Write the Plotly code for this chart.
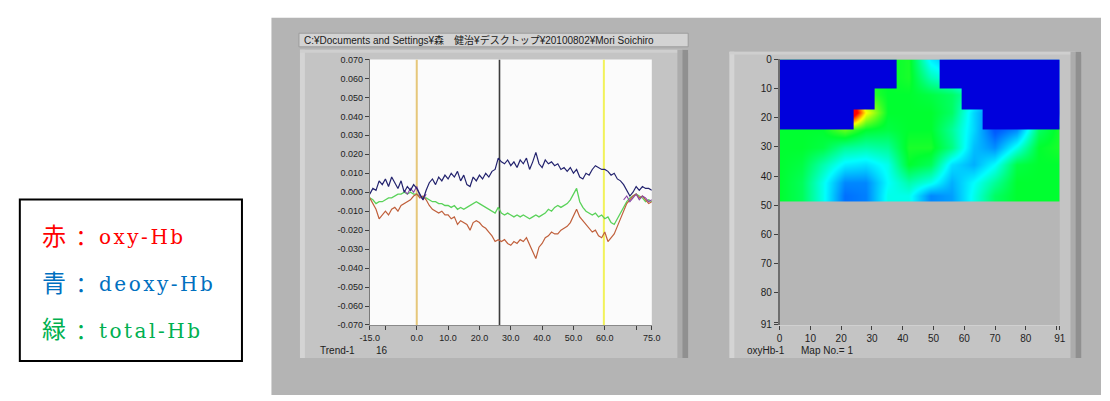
import plotly.graph_objects as go

# ---------------- data ----------------
time_s = list(range(-15, 76))  # seconds, 1 s steps

# values in units of 0.001
deoxy_hb = [-1, 2, 1, 6, 4, 7, 3, 8, 5, 2, 6, 0, 3, 1, 4,
            2, -1, -4, 1, 5, 7, 4, 8, 6, 9, 7, 10, 8, 11, 6,
            9, 4, 3, 8, 6, 9, 7, 10, 8, 11, 12, 18, 16, 15, 17,
            14, 16, 13, 17, 15, 18, 12, 16, 21, 15, 13, 17, 15, 16, 14,
            15, 12, 13, 11, 13, 10, 12, 8, 7, 10, 9, 12, 14, 13, 12,
            12, 11, 9, 10, 7, 6, 4, 1, -2, 0, 3, 1, 3, 2, 2, 1]

oxy_hb = [-3, -6, -9, -14, -12, -10, -12, -9, -8, -10, -7, -6, -5, -4, -2,
          -1, -3, -2, -4, -7, -9, -10, -11, -10, -12, -12, -14, -13, -17, -15,
          -16, -17, -20, -16, -15, -16, -18, -19, -21, -23, -26, -25, -26, -25, -27,
          -28, -26, -27, -25, -26, -24, -28, -31, -35, -29, -27, -24, -23, -21, -22,
          -22, -20, -19, -18, -16, -12, -9, -13, -15, -17, -19, -21, -20, -23, -24,
          -21, -26, -24, -22, -18, -14, -10, -6, -4, -2, -1, -3, -2, -4, -6, -5]

total_hb = [-3, -4, -6, -5, -5, -4, -3, -3, -2, -1, -1, 0, -1, 0, -1,
            -1, -2, -3, -3, -4, -5, -5, -6, -6, -7, -7, -8, -7, -9, -8,
            -9, -8, -7, -6, -5, -6, -7, -8, -9, -10, -11, -8, -11, -12, -11,
            -12, -13, -12, -13, -12, -13, -14, -13, -12, -13, -12, -11, -9, -10, -8,
            -7, -8, -7, -6, -4, -1, 2, -5, -8, -10, -11, -12, -11, -13, -12,
            -14, -13, -16, -17, -14, -11, -8, -5, -3, -2, -1, -2, -3, -5, -4, -5]

extra_time = [-4, -3, -2, -1, 0, 1, 2, 3, None, 66, 67, 68, 69, 70, 71, 72, 73, 74, 75]
extra_ch = [1, -1, 2, 0, 3, -2, -4, -1, None, -4, -2, -5, -3, -1, -4, -2, -3, -5, -4]

cursor_times = [0.0, 26.4, 59.7]

y_tick_vals = [-0.07, -0.06, -0.05, -0.04, -0.03, -0.02, -0.01, 0.0,
               0.01, 0.02, 0.03, 0.04, 0.05, 0.06, 0.07]
y_tick_text = ["-0.070", "-0.060", "-0.050", "-0.040", "-0.030", "-0.020", "-0.010", "0.000",
               "0.010", "0.020", "0.030", "0.040", "0.050", "0.060", "0.070"]
x_tick_vals = [-15, -10, 0, 10, 20, 30, 40, 50, 60, 70, 75]
x_tick_text = ["-15.0", "", "0.0", "10.0", "20.0", "30.0", "40.0", "50.0", "60.0", "", "75.0"]

# topography map (oxyHb-1), coarse grid, smoothed by the library
map_x = [0, 7, 14, 21, 28, 35, 42, 49, 56, 63, 70, 77, 84, 91]
map_y = [0, 6, 12, 18, 24, 30, 36, 42, 46.5]
map_z = [
    [.60, .60, .60, .60, .60, .60, .62, .38, .30, .30, .30, .30, .30, .30],
    [.60, .60, .60, .60, .60, .60, .62, .47, .40, .30, .30, .30, .30, .30],
    [.60, .60, .60, 1.2, .65, .60, .60, .58, .55, .45, .30, .30, .30, .30],
    [.60, .60, .60, 1.3, .80, .60, .60, .60, .55, .35, .20, .20, .20, .20],
    [.60, .60, .60, .68, .60, .58, .60, .60, .50, .35, .18, .25, .55, .62],
    [.60, .60, .58, .50, .48, .50, .62, .62, .52, .32, .26, .42, .60, .62],
    [.60, .58, .48, .38, .36, .42, .60, .56, .36, .30, .40, .58, .60, .60],
    [.60, .56, .42, .25, .25, .40, .48, .42, .30, .40, .50, .60, .60, .60],
    [.60, .56, .42, .22, .24, .42, .42, .25, .28, .42, .55, .60, .60, .60],
]
mask_x_edges = [0, 24, 31, 38, 52, 59, 66, 91]
mask_y_edges = [0, 10, 17, 24]
mask_z = [
    [1, 1, 1, None, 1, 1, 1],
    [1, 1, None, None, None, 1, 1],
    [1, None, None, None, None, None, 1],
]
map_tick_vals = [0, 10, 20, 30, 40, 50, 60, 70, 80, 90, 91]
map_tick_text = ["0", "10", "20", "30", "40", "50", "60", "70", "80", "", "91"]

legend_kanji = ["赤", "青", "緑"]
legend_names = ["oxy-Hb", "deoxy-Hb", "total-Hb"]
legend_colors = ["#ff0000", "#0070c0", "#00b050"]

path_text = "C:¥Documents and Settings¥森　健治¥デスクトップ¥20100802¥Mori Soichiro"

# ---------------- layout helpers ----------------
W, H = 1110, 401


def fx(p):
    return p / W


def fy(p):
    return 1 - p / H


def rect(x0, y0, x1, y1, fill, line_color=None, lw=0, layer="below"):
    return dict(type="rect", xref="paper", yref="paper",
                x0=fx(x0), x1=fx(x1), y0=fy(y1), y1=fy(y0),
                fillcolor=fill, layer=layer,
                line=dict(width=lw, color=line_color or fill))


SANS = "Liberation Sans, Arial, Noto Sans CJK JP, sans-serif"
scale = 0.001

fig = go.Figure()

# cursors (under the data)
cursor_colors = ["#e6c77a", "#3c3c3c", "#f2f25a"]
cursor_widths = [2, 1.6, 2]
for t, c, w in zip(cursor_times, cursor_colors, cursor_widths):
    fig.add_trace(go.Scatter(x=[t, t], y=[-0.07, 0.07], mode="lines",
                             line=dict(color=c, width=w), hoverinfo="skip",
                             xaxis="x", yaxis="y"))

fig.add_trace(go.Scatter(x=time_s, y=[v * scale for v in total_hb], mode="lines",
                         line=dict(color="#5ad25a", width=1.3), xaxis="x", yaxis="y"))
fig.add_trace(go.Scatter(x=time_s, y=[v * scale for v in oxy_hb], mode="lines",
                         line=dict(color="#c0603c", width=1.2), xaxis="x", yaxis="y"))
fig.add_trace(go.Scatter(x=extra_time, y=[None if v is None else v * scale for v in extra_ch],
                         mode="lines", connectgaps=False,
                         line=dict(color="#8a4aa8", width=1.1), xaxis="x", yaxis="y"))
fig.add_trace(go.Scatter(x=time_s, y=[v * scale for v in deoxy_hb], mode="lines",
                         line=dict(color="#23236e", width=1.2), xaxis="x", yaxis="y"))

# topography map
fig.add_trace(go.Heatmap(
    x=map_x, y=map_y, z=map_z, zmin=0, zmax=1, zsmooth="best", showscale=False,
    colorscale=[[0, "#0000ff"], [0.2, "#0060ff"], [0.4, "#00ffff"],
                [0.6, "#00ff30"], [0.8, "#ffff00"], [1, "#ff0000"]],
    hoverinfo="skip", xaxis="x2", yaxis="y2"))
fig.add_trace(go.Heatmap(
    x=mask_x_edges, y=mask_y_edges, z=mask_z, zmin=0, zmax=1, zsmooth=False,
    showscale=False, colorscale=[[0, "#0000dc"], [1, "#0000dc"]],
    hoverinfo="skip", xaxis="x2", yaxis="y2"))

tick_font = dict(family=SANS, size=9, color="#1e1e1e")

shapes = [
    rect(266, 13, 1110, 401, "#b4b4b4"),
    # left panel
    rect(295, 46, 690, 363, "#c4c4c4"),
    rect(295, 46, 300, 363, "#d4d4d4"),
    rect(295, 46, 690, 49, "#cfcfcf"),
    rect(679, 46, 684, 363, "#acacac"),
    rect(684, 46, 690, 363, "#909090"),
    rect(294, 29, 690, 43, "#d3d3d3", "#9c9c9c", 1),
    # right panel
    rect(732, 48, 1090, 363, "#c4c4c4"),
    rect(732, 48, 737, 363, "#d4d4d4"),
    rect(732, 48, 1090, 51, "#cfcfcf"),
    rect(1079, 48, 1084, 363, "#acacac"),
    rect(1084, 48, 1090, 363, "#909090"),
    # plot areas
    rect(366, 56, 653, 329, "#fbfbfb"),
    rect(783, 56, 1068, 329, "#b6b6b6"),
    # legend box
    rect(10, 200, 236, 366, "#ffffff", "#000000", 2),
]


def label(text, x, y, size=10, color="#202020", family=SANS, xanchor="left"):
    return dict(text=text, x=fx(x), y=fy(y), xref="paper", yref="paper",
                xanchor=xanchor, yanchor="middle", showarrow=False,
                font=dict(family=family, size=size, color=color))


annotations = [
    label(path_text, 297, 36),
    label("Trend-1", 313, 355),
    label("16", 370, 355),
    label("oxyHb-1", 748, 355),
    label("Map No.= 1", 803, 355),
]

line_centers = [239, 287, 335]
for k, n, c, yc in zip(legend_kanji, legend_names, legend_colors, line_centers):
    annotations.append(label(k, 31, yc - 3, 24, c, "Noto Sans CJK JP"))
    annotations.append(label("：", 72, yc - 1, 22, c, "Noto Sans CJK JP", "center"))
    annotations.append(label('<span style="letter-spacing:2.5px">' + n + "</span>",
                             89, yc, 20, c, "DejaVu Serif, Liberation Serif, serif"))

fig.update_layout(
    width=W, height=H, autosize=False,
    margin=dict(l=0, r=0, t=0, b=0, pad=0),
    paper_bgcolor="#ffffff", plot_bgcolor="rgba(0,0,0,0)",
    showlegend=False, hovermode=False,
    shapes=shapes, annotations=annotations,
    xaxis=dict(domain=[fx(366), fx(653)], range=[-15, 75], anchor="y",
               tickmode="array", tickvals=x_tick_vals, ticktext=x_tick_text,
               ticks="outside", ticklen=4, tickwidth=1, tickcolor="#404040",
               showgrid=False, zeroline=False, showline=True, linecolor="#8a8a8a",
               linewidth=1, tickfont=tick_font, fixedrange=True),
    yaxis=dict(domain=[fy(329), fy(56)], range=[-0.07, 0.07], anchor="x",
               tickmode="array", tickvals=y_tick_vals, ticktext=y_tick_text,
               ticks="outside", ticklen=4, tickwidth=1, tickcolor="#404040",
               showgrid=False, zeroline=False, showline=True, linecolor="#7a7a7a",
               linewidth=1, tickfont=tick_font, fixedrange=True),
    xaxis2=dict(domain=[fx(783), fx(1068)], range=[0, 91], anchor="y2",
                tickmode="array", tickvals=map_tick_vals, ticktext=map_tick_text,
                ticks="outside", ticklen=4, tickwidth=1, tickcolor="#404040",
                showgrid=False, zeroline=False, showline=True, linecolor="#d0d0d0",
                linewidth=1, tickfont=dict(family=SANS, size=10, color="#1e1e1e"),
                fixedrange=True),
    yaxis2=dict(domain=[fy(329), fy(56)], range=[91, 0], anchor="x2",
                tickmode="array", tickvals=map_tick_vals, ticktext=map_tick_text,
                ticks="outside", ticklen=4, tickwidth=1, tickcolor="#404040",
                showgrid=False, zeroline=False, showline=True, linecolor="#6e6e6e",
                linewidth=1.5, tickfont=dict(family=SANS, size=10, color="#1e1e1e"),
                fixedrange=True),
)

fig.write_html("out.html")
